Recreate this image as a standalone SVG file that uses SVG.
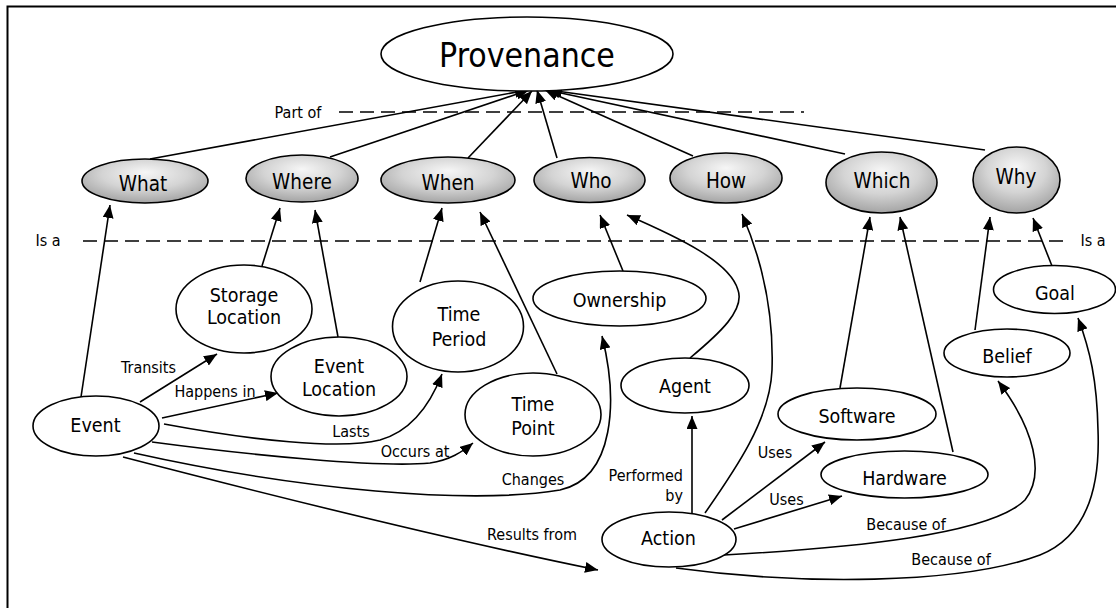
<svg xmlns="http://www.w3.org/2000/svg" width="1116" height="608" viewBox="0 0 1116 608">
  <defs>
    <radialGradient id="wfill" cx="50%" cy="38%" r="62%" fx="50%" fy="30%">
      <stop offset="0" stop-color="#f6f6f6"/>
      <stop offset="0.55" stop-color="#d4d4d4"/>
      <stop offset="1" stop-color="#a4a4a4"/>
    </radialGradient>
    <marker id="arr" viewBox="0 0 13 11" refX="13" refY="5.5" markerWidth="13" markerHeight="11" markerUnits="userSpaceOnUse" orient="auto">
      <path d="M0,0 L13,5.5 L0,11 z" fill="#000"/>
    </marker>
    <style>
      text { font-family: "DejaVu Sans Condensed", "DejaVu Sans", sans-serif; font-stretch: condensed; fill: #000; text-anchor: middle; }
      .node ellipse { fill: #fff; stroke: #000; stroke-width: 1.6; }
      .w ellipse { fill: url(#wfill); }
      .big { font-size: 33.5px; }
      .wl { font-size: 20.5px; }
      .nl { font-size: 19.5px; }
      .el { font-size: 16px; }
      .edge { fill: none; stroke: #000; stroke-width: 1.6; marker-end: url(#arr); }
      .dash { fill: none; stroke: #000; stroke-width: 1.6; stroke-dasharray: 14 7; }
    </style>
  </defs>

  <rect width="1116" height="608" fill="#fff"/>
  <!-- frame (runs off the right and bottom edges) -->
  <rect x="7.5" y="6.5" width="1130" height="620" fill="none" stroke="#000" stroke-width="2"/>

  <!-- level separators -->
  <g id="separators">
    <line class="dash" x1="339" y1="112" x2="804" y2="112"/>
    <text class="el" x="298" y="117.5">Part of</text>
    <line class="dash" x1="83" y1="241" x2="1068" y2="241"/>
    <text class="el" x="48" y="246">Is a</text>
    <text class="el" x="1093" y="246">Is a</text>
  </g>

  <g id="connectors">
    <!-- W categories are part of Provenance -->
    <path class="edge" d="M150,159 L528,90"/>
    <path class="edge" d="M330,157 L529,90"/>
    <path class="edge" d="M468,158 L532,91"/>
    <path class="edge" d="M557,158 L537,90"/>
    <path class="edge" d="M693,156 L545,90"/>
    <path class="edge" d="M845,154 L547,90"/>
    <path class="edge" d="M985,150 L549,90"/>

    <!-- is-a links -->
    <path class="edge" d="M81,397 L110,205"/>
    <path class="edge" d="M262,266 L280,208"/>
    <path class="edge" d="M338,337 L315,210"/>
    <path class="edge" d="M420,282 L442,208"/>
    <path class="edge" d="M557,374 L480,212"/>
    <path class="edge" d="M623,271 L600,215"/>
    <path class="edge" d="M690,358 C720,333 745,310 738,290 C730,262 680,238 627,215"/>
    <path class="edge" d="M705,513 C735,470 770,420 772,370 C774,310 762,260 742,214"/>
    <path class="edge" d="M840,388 L870,217"/>
    <path class="edge" d="M953,452 L900,217"/>
    <path class="edge" d="M975,330 L990,217"/>
    <path class="edge" d="M1052,266 L1033,218"/>

    <!-- relations -->
    <path class="edge" d="M140,402 L217,354"/>
    <path class="edge" d="M162,418 L278,393"/>
    <path class="edge" d="M164,424 C250,440 340,450 380,440 C415,430 432,400 442,374"/>
    <path class="edge" d="M152,442 C250,455 380,468 430,463 C450,460 462,452 473,443"/>
    <path class="edge" d="M134,453 C300,490 470,505 560,490 C615,478 618,400 602,336"/>
    <path class="edge" d="M123,457 C250,490 450,540 598,570"/>
    <path class="edge" d="M692,513 L692,416"/>
    <path class="edge" d="M722,520 L825,442"/>
    <path class="edge" d="M734,529 L842,496"/>
    <path class="edge" d="M724,555 C850,548 990,535 1025,500 C1045,475 1035,430 998,381"/>
    <path class="edge" d="M676,568 C800,585 960,585 1040,555 C1090,535 1100,480 1098,430 C1097,380 1090,350 1078,318"/>

    <text class="el" x="148.5" y="373">Transits</text>
    <text class="el" x="215" y="397">Happens in</text>
    <text class="el" x="351" y="437">Lasts</text>
    <text class="el" x="415" y="457">Occurs at</text>
    <text class="el" x="533" y="485">Changes</text>
    <text class="el" x="532" y="540">Results from</text>
    <text class="el" x="683" y="481" style="text-anchor:end">Performed</text>
    <text class="el" x="683" y="501" style="text-anchor:end">by</text>
    <text class="el" x="775" y="458">Uses</text>
    <text class="el" x="786.5" y="505">Uses</text>
    <text class="el" x="906" y="530">Because of</text>
    <text class="el" x="951" y="565">Because of</text>
  </g>

  <g id="provenance" class="node">
    <ellipse cx="527" cy="54" rx="146" ry="37"/>
    <text class="big" x="527" y="67">Provenance</text>
  </g>

  <g id="what" class="node w">
    <ellipse cx="145" cy="181" rx="63" ry="22"/>
    <text class="wl" x="143" y="191">What</text>
  </g>
  <g id="where" class="node w">
    <ellipse cx="302" cy="178.5" rx="56" ry="23.5"/>
    <text class="wl" x="302" y="189">Where</text>
  </g>
  <g id="when" class="node w">
    <ellipse cx="448" cy="180" rx="67" ry="23"/>
    <text class="wl" x="448" y="190">When</text>
  </g>
  <g id="who" class="node w">
    <ellipse cx="589.5" cy="180" rx="55.5" ry="22.5"/>
    <text class="wl" x="591" y="188">Who</text>
  </g>
  <g id="how" class="node w">
    <ellipse cx="726" cy="178" rx="56" ry="25"/>
    <text class="wl" x="726" y="188">How</text>
  </g>
  <g id="which" class="node w">
    <ellipse cx="881.5" cy="182.5" rx="55.5" ry="30.5"/>
    <text class="wl" x="882" y="188">Which</text>
  </g>
  <g id="why" class="node w">
    <ellipse cx="1016.5" cy="180" rx="43.5" ry="33"/>
    <text class="wl" x="1016" y="184">Why</text>
  </g>

  <g id="storage-location" class="node">
    <ellipse cx="244" cy="309" rx="68" ry="44"/>
    <text class="nl" x="244" y="302">Storage</text>
    <text class="nl" x="244" y="324">Location</text>
  </g>
  <g id="event-location" class="node">
    <ellipse cx="339" cy="376.5" rx="68" ry="39.5"/>
    <text class="nl" x="339" y="373">Event</text>
    <text class="nl" x="339" y="396">Location</text>
  </g>
  <g id="time-period" class="node">
    <ellipse cx="458" cy="326.5" rx="65.5" ry="45.5"/>
    <text class="nl" x="459" y="321">Time</text>
    <text class="nl" x="459" y="346">Period</text>
  </g>
  <g id="ownership" class="node">
    <ellipse cx="619.5" cy="298.5" rx="86.5" ry="27.5"/>
    <text class="nl" x="619.5" y="307">Ownership</text>
  </g>
  <g id="time-point" class="node">
    <ellipse cx="533" cy="414.5" rx="68" ry="41.5"/>
    <text class="nl" x="533" y="411">Time</text>
    <text class="nl" x="533" y="435">Point</text>
  </g>
  <g id="agent" class="node">
    <ellipse cx="685" cy="385.5" rx="64" ry="27.5"/>
    <text class="nl" x="685" y="393">Agent</text>
  </g>
  <g id="event" class="node">
    <ellipse cx="96" cy="426" rx="63" ry="30"/>
    <text class="nl" x="95.5" y="432">Event</text>
  </g>
  <g id="software" class="node">
    <ellipse cx="857" cy="414" rx="79" ry="26"/>
    <text class="nl" x="857" y="423">Software</text>
  </g>
  <g id="hardware" class="node">
    <ellipse cx="904.5" cy="474.5" rx="83.5" ry="23.5"/>
    <text class="nl" x="904.5" y="485">Hardware</text>
  </g>
  <g id="action" class="node">
    <ellipse cx="669" cy="539.5" rx="67" ry="27.5"/>
    <text class="nl" x="668.5" y="545">Action</text>
  </g>
  <g id="goal" class="node">
    <ellipse cx="1054.5" cy="289.5" rx="61" ry="24"/>
    <text class="nl" x="1055" y="300">Goal</text>
  </g>
  <g id="belief" class="node">
    <ellipse cx="1007" cy="353" rx="63" ry="24"/>
    <text class="nl" x="1007" y="363">Belief</text>
  </g>
</svg>
